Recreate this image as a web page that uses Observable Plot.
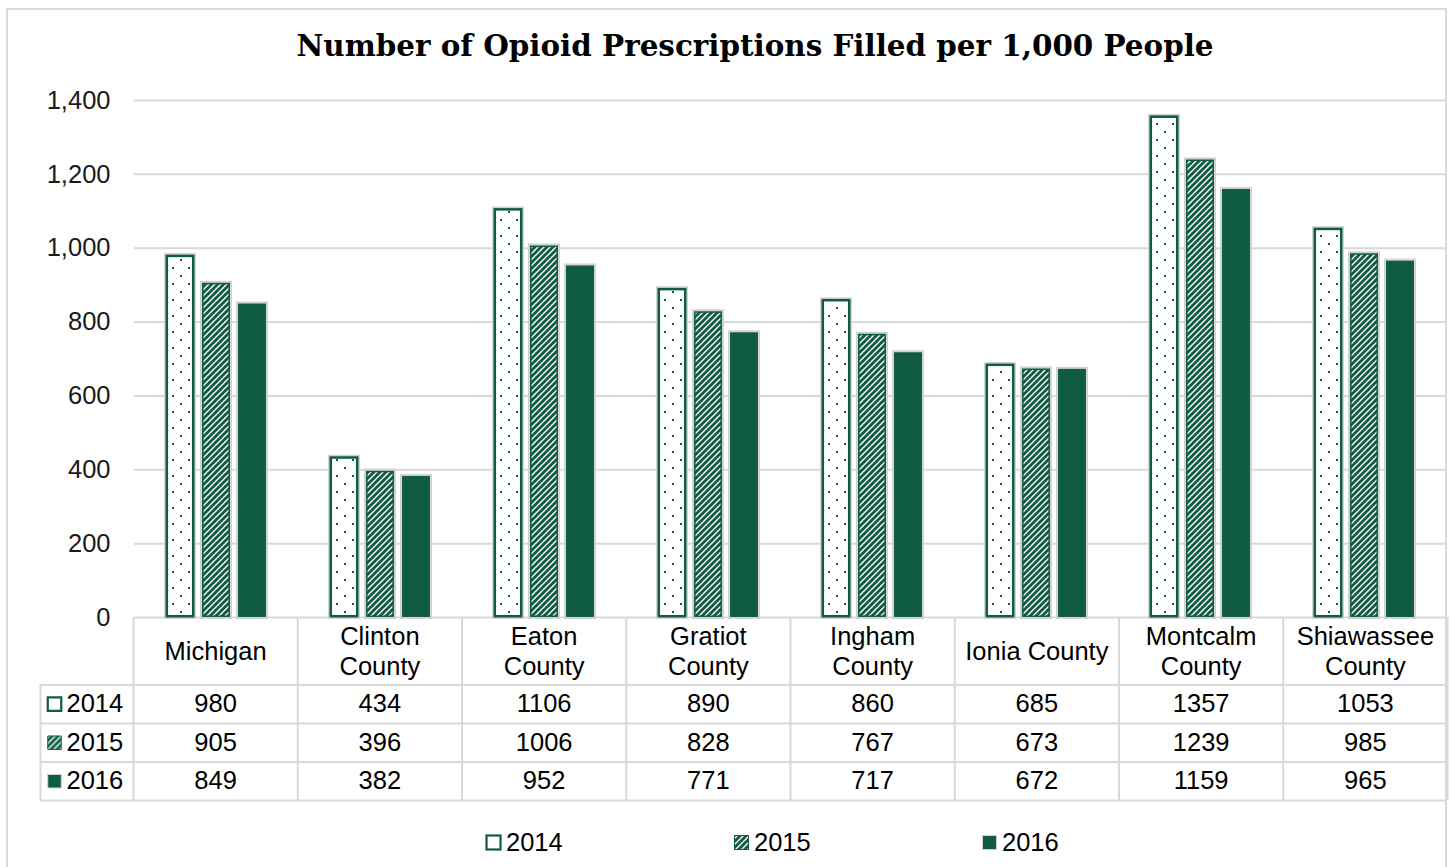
<!DOCTYPE html>
<html><head><meta charset="utf-8">
<script src="https://cdn.jsdelivr.net/npm/d3@7"></script>
<script src="https://cdn.jsdelivr.net/npm/@observablehq/plot@0.6"></script>
<style>
body{margin:0;background:#fff;font-family:"Liberation Sans",Arial,sans-serif;}
#page{position:relative;width:1452px;height:867px;overflow:hidden;background:#fff;}
#border{position:absolute;left:6px;top:8px;width:1441px;height:900px;border:2px solid #d9d9d9;box-sizing:border-box;}
#title{position:absolute;left:0;top:29px;width:1510px;text-align:center;font-family:"DejaVu Serif",serif;font-weight:bold;font-size:29.4px;line-height:34px;white-space:nowrap;color:#000;}
#bars{position:absolute;left:0;top:0;}
#table{position:absolute;left:0;top:610px;}
#legend{position:absolute;top:828px;left:485px;display:flex;}
.item{display:flex;align-items:center;width:248px;font-size:25.5px;color:#000;}
.item svg{margin-right:4px;}
</style>
</head><body>
<svg width="0" height="0" style="position:absolute">
<defs>
<pattern id="dots" width="16" height="16" patternUnits="userSpaceOnUse">
<rect width="16" height="16" fill="#fff"/>
<rect x="3" y="3" width="2" height="2" fill="#0f5b43"/>
<rect x="11" y="11" width="2" height="2" fill="#0f5b43"/>
</pattern>
<pattern id="stripes" width="6" height="6" patternUnits="userSpaceOnUse">
<rect width="6" height="6" fill="#0f5b43"/>
<path d="M-1,1 L1,-1 M0,6 L6,0 M5,7 L7,5" stroke="#fff" stroke-width="1.4"/>
</pattern>
</defs>
</svg>
<div id="page">
<div id="border"></div>
<div id="title">Number of Opioid Prescriptions Filled per 1,000 People</div>
<div id="bars"></div>
<div id="table"></div>
<div id="legend"></div>
</div>
<script>
// ---- data ----
const categories = ["Michigan", "Clinton\nCounty", "Eaton\nCounty", "Gratiot\nCounty", "Ingham\nCounty", "Ionia County", "Montcalm\nCounty", "Shiawassee\nCounty"];
const years = ["2014", "2015", "2016"];
const values2014 = [980, 434, 1106, 890, 860, 685, 1357, 1053];
const values2015 = [905, 396, 1006, 828, 767, 673, 1239, 985];
const values2016 = [849, 382, 952, 771, 717, 672, 1159, 965];
const yTicks = [0, 200, 400, 600, 800, 1000, 1200, 1400];

// ---- styles ----
const GREEN = "#0f5b43";
const GRID = "#d9d9d9";
const FONT = "'Liberation Sans', Arial, sans-serif";
const series = [values2014, values2015, values2016];
const fills = {"2014": "url(#dots)", "2015": "url(#stripes)", "2016": GREEN};
const strokes = {"2014": GREEN, "2015": GREEN, "2016": GREEN};

const rows = years.flatMap((yr, j) => categories.map((c, i) => ({category: c, year: yr, value: series[j][i]})));

// ---- bar chart ----
const barMarks = [
  Plot.gridY(yTicks, {stroke: GRID, strokeOpacity: 1, strokeWidth: 2}),
  Plot.barY(rows, {fx: "category", x: "year", y: "value", fill: "none", stroke: "#d2d2d2", strokeWidth: 4})
];
for (const yr of years) {
  barMarks.push(Plot.barY(rows, {
    filter: d => d.year === yr,
    fx: "category", x: "year", y: "value",
    fill: fills[yr], stroke: strokes[yr], strokeWidth: yr === "2014" ? 2.5 : 1.5, inset: 0.8
  }));
}
const bars = Plot.plot({
  width: 1452, height: 630,
  marginTop: 100, marginBottom: 13, marginLeft: 133, marginRight: 5,
  style: {background: "transparent", fontFamily: FONT, fontSize: "25.5px", color: "#1a1a1a"},
  fx: {domain: categories, padding: 0, axis: null},
  x: {domain: years, paddingInner: 0.216, paddingOuter: 0.83, axis: null},
  y: {domain: [0, 1400], ticks: yTicks, tickFormat: d3.format(",d"), tickSize: 0, tickPadding: 24, label: null},
  marks: barMarks
});
document.getElementById("bars").appendChild(bars);

// ---- data table ----
const n = categories.length;
const lx = -93 / 164.25; // label column width in column units
const headerH = 1.75;
const cells = years.flatMap((yr, j) => categories.map((c, i) => ({col: i, row: j, text: String(series[j][i])})));
const tableMarks = [
  Plot.ruleY([headerH, headerH + 1, headerH + 2, headerH + 3], {stroke: GRID, strokeWidth: 2}),
  Plot.ruleX(d3.range(0, n + 1), {y1: 0, y2: headerH + 3, stroke: GRID, strokeWidth: 2}),
  Plot.ruleX([lx], {y1: headerH, y2: headerH + 3, stroke: GRID, strokeWidth: 2}),
  Plot.text(categories, {x: (d, i) => i + 0.5, y: headerH / 2, dy: -1, text: d => d, lineHeight: 1.18, fill: "#000"}),
  Plot.text(cells, {x: d => d.col + 0.5, y: d => headerH + d.row + 0.5, text: "text", fill: "#000"}),
  Plot.text(years, {x: lx, y: (d, j) => headerH + j + 0.5, text: d => d, textAnchor: "start", dx: 26, fill: "#000"})
];
years.forEach((yr, j) => {
  tableMarks.push(Plot.dot([yr], {
    x: lx, y: headerH + j + 0.5, dx: 14, symbol: "square", r: 7.6,
    fill: yr === "2014" ? "#fff" : fills[yr],
    stroke: yr === "2016" ? "#cfcfcf" : GREEN, strokeWidth: yr === "2014" ? 2.2 : 1
  }));
});
const table = Plot.plot({
  width: 1452, height: 210,
  marginLeft: 40, marginRight: 5, marginTop: 7, marginBottom: 20,
  style: {background: "transparent", fontFamily: FONT, fontSize: "25.5px", color: "#000"},
  x: {domain: [lx, n], axis: null},
  y: {domain: [0, headerH + 3], range: [7, 190], axis: null},
  marks: tableMarks
});
document.getElementById("table").appendChild(table);

// ---- legend ----
const legend = document.getElementById("legend");
years.forEach(yr => {
  const item = document.createElement("div");
  item.className = "item";
  const f = yr === "2014" ? "#fff" : fills[yr];
  const s = yr === "2016" ? "#cfcfcf" : GREEN;
  const sw = yr === "2014" ? 2.2 : 1;
  item.innerHTML = `<svg width="17" height="17"><rect x="1.5" y="1.5" width="14" height="14" fill="${f}" stroke="${s}" stroke-width="${sw}"/></svg><span>${yr}</span>`;
  legend.appendChild(item);
});
</script>
</body></html>
